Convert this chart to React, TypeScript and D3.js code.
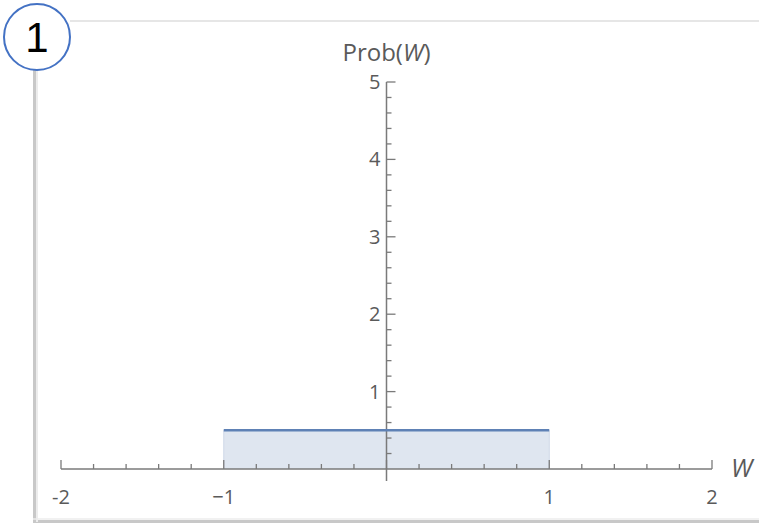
import React from "react";
import * as d3 from "d3";

// density of W: uniform on [-1, 1]
const wValues = [-1, 1];
const probValues = [0.5, 0.5];

const xTickValues = [-2, -1, 1, 2];
const xTickLabels = ["-2", "\u22121", "1", "2"];
const yTickValues = [1, 2, 3, 4, 5];
const yTickLabels = ["1", "2", "3", "4", "5"];

const W = 759;
const H = 526;

const axisColor = "#7a7a7a";
const labelColor = "#5a5a5a";
const lineBlue = "#5e81b5";
const fillBlue = "#dfe6f0";
const font = "'Open Sans', 'DejaVu Sans', sans-serif";

export default function App() {
  const x = d3.scaleLinear().domain([-2, 2]).range([61, 712]);
  const y = d3.scaleLinear().domain([0, 5]).range([469, 82]);

  const pts = wValues.map((w, i) => [w, probValues[i]] as [number, number]);
  const area = d3
    .area<[number, number]>()
    .x((d) => x(d[0]))
    .y0(y(0))
    .y1((d) => y(d[1]));
  const line = d3
    .line<[number, number]>()
    .x((d) => x(d[0]))
    .y((d) => y(d[1]));

  const xMinor = d3.range(-2, 2.001, 0.2).map((v) => +v.toFixed(1));
  const yMinor = d3.range(0.2, 5.001, 0.2).map((v) => +v.toFixed(1));
  const isMajor = (v: number) => Math.abs(v - Math.round(v)) < 1e-6;

  const x0 = x(0);
  const y0 = y(0);

  return (
    <svg
      width={W}
      height={H}
      style={{ position: "absolute", left: 0, top: 0, background: "#fff" }}
    >
      {/* frame of the screenshot */}
      <line x1={70} x2={W} y1={21} y2={21} stroke="#e6e6e6" strokeWidth={2} />
      <line x1={34.5} x2={34.5} y1={55} y2={522} stroke="#c8c8c8" strokeWidth={3} />
      <line x1={33} x2={W} y1={521.5} y2={521.5} stroke="#c8c8c8" strokeWidth={3} />
      <line x1={37} x2={37} y1={60} y2={522} stroke="#ececec" strokeWidth={2} />
      <line x1={33} x2={W} y1={519} y2={519} stroke="#ececec" strokeWidth={1.5} />

      {/* filled density */}
      <path d={area(pts) || ""} fill={fillBlue} />
      <line x1={x(-1)} x2={x(-1)} y1={y0} y2={y(0.5)} stroke="#cfd8e8" strokeWidth={1} />
      <line x1={x(1)} x2={x(1)} y1={y0} y2={y(0.5)} stroke="#cfd8e8" strokeWidth={1} />

      {/* x axis */}
      <line x1={x(-2)} x2={x(2)} y1={y0} y2={y0} stroke={axisColor} strokeWidth={1.5} />
      {xMinor.map((v) => (
        <line
          key={"xm" + v}
          x1={x(v)}
          x2={x(v)}
          y1={y0}
          y2={y0 - (isMajor(v) ? 9 : 5)}
          stroke={axisColor}
          strokeWidth={1.3}
        />
      ))}
      {xTickValues.map((v, i) => (
        <text
          key={"xl" + v}
          x={x(v)}
          y={y0 + 35}
          textAnchor="middle"
          fontFamily={font}
          fontSize={20}
          fill={labelColor}
        >
          {xTickLabels[i]}
        </text>
      ))}
      <text
        x={731}
        y={477}
        fontFamily={font}
        fontStyle="italic"
        fontSize={25}
        fill={labelColor}
      >
        W
      </text>

      {/* y axis */}
      <line x1={x0} x2={x0} y1={y(5)} y2={y0 + 12} stroke={axisColor} strokeWidth={1.5} />
      {yMinor.map((v) => (
        <line
          key={"ym" + v}
          x1={x0}
          x2={x0 + (isMajor(v) ? 9 : 5)}
          y1={y(v)}
          y2={y(v)}
          stroke={axisColor}
          strokeWidth={1.3}
        />
      ))}
      {yTickValues.map((v, i) => (
        <text
          key={"yl" + v}
          x={x0 - 6}
          y={y(v) + 7}
          textAnchor="end"
          fontFamily={font}
          fontSize={20}
          fill={labelColor}
        >
          {yTickLabels[i]}
        </text>
      ))}
      <text
        x={x0}
        y={61}
        textAnchor="middle"
        fontFamily={font}
        fontSize={24}
        fill={labelColor}
      >
        Prob(<tspan fontStyle="italic">W</tspan>)
      </text>

      {/* density line */}
      <path d={line(pts) || ""} fill="none" stroke={lineBlue} strokeWidth={2.5} />

      {/* panel number badge */}
      <circle cx={37} cy={37} r={33} fill="#fff" stroke="#4472c4" strokeWidth={2} />
      <text
        x={37}
        y={52}
        textAnchor="middle"
        fontFamily="'Liberation Sans', 'DejaVu Sans', sans-serif"
        fontSize={42}
        fill="#000"
      >
        1
      </text>
    </svg>
  );
}
